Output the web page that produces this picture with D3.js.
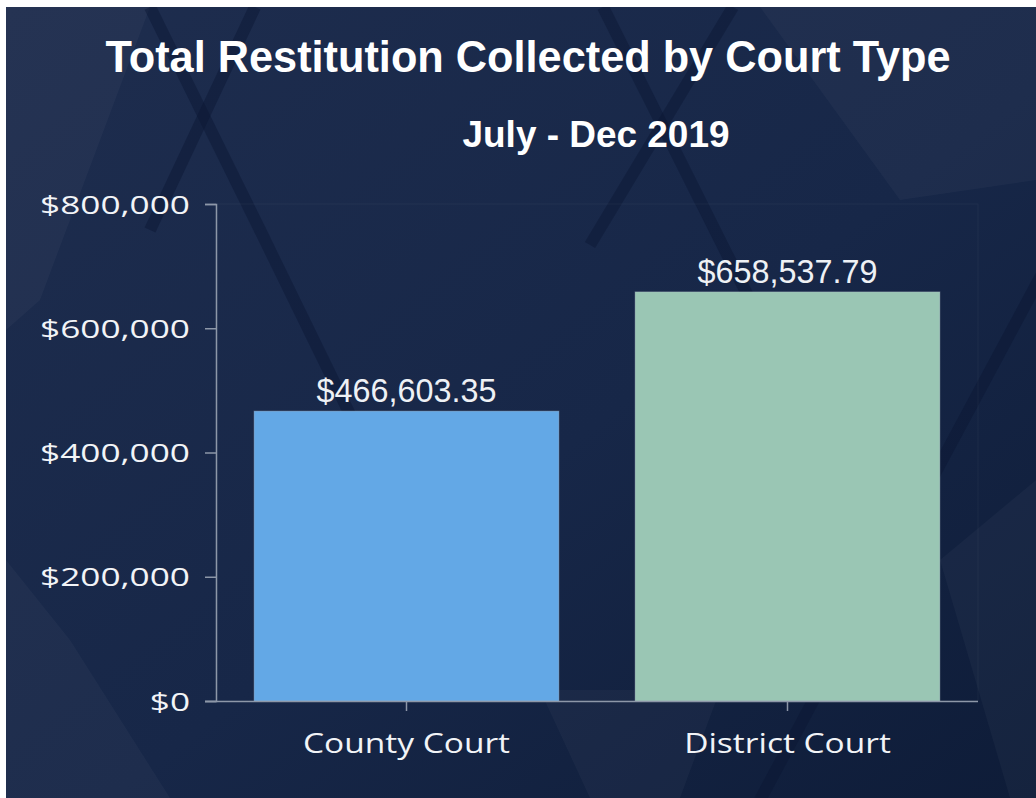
<!DOCTYPE html>
<html>
<head>
<meta charset="utf-8">
<script src="https://cdn.jsdelivr.net/npm/d3@7"></script>
<style>
  html, body { margin: 0; padding: 0; background: #ffffff; }
  svg { display: block; }
</style>
</head>
<body>
<svg id="chart" width="1036" height="798"></svg>
<script>
// ---- data ----
const categories = ["County Court", "District Court"];
const values = [466603.35, 658537.79];
const barColors = ["#63a8e6", "#9ac6b4"];
const yTicks = [0, 200000, 400000, 600000, 800000];
const titleText = "Total Restitution Collected by Court Type";
const subtitleText = "July - Dec 2019";

const W = 1036, H = 798;
const svg = d3.select("#chart");

// ---- background panel ----
const defs = svg.append("defs");
const grad = defs.append("linearGradient").attr("id", "bg")
  .attr("x1", "0").attr("y1", "0").attr("x2", "1").attr("y2", "1");
grad.append("stop").attr("offset", "0%").attr("stop-color", "#1e2d4e");
grad.append("stop").attr("offset", "55%").attr("stop-color", "#172748");
grad.append("stop").attr("offset", "100%").attr("stop-color", "#0e1c38");
const clip = defs.append("clipPath").attr("id", "panelClip");
clip.append("rect").attr("x", 6).attr("y", 7).attr("width", W - 6).attr("height", H - 7);

const bg = svg.append("g").attr("clip-path", "url(#panelClip)");
bg.append("rect").attr("x", 6).attr("y", 7).attr("width", W - 6).attr("height", H - 7)
  .attr("fill", "url(#bg)");

// decorative lattice (lighter facets and darker seams)
const facets = [
  [[6, 7], [150, 7], [40, 300], [6, 330]],
  [[6, 560], [70, 640], [170, 798], [6, 798]],
  [[540, 690], [720, 690], [680, 798], [590, 798]],
  [[940, 560], [1036, 480], [1036, 798], [1010, 798]],
  [[760, 7], [1036, 7], [1036, 180], [900, 200]]
];
bg.selectAll("path.facet").data(facets).join("path")
  .attr("class", "facet")
  .attr("d", d => "M" + d.map(p => p.join(",")).join("L") + "Z")
  .attr("fill", "#ffffff").attr("fill-opacity", 0.03);

const seams = [
  [[150, 7], [260, 230]], [[255, 7], [150, 230]],
  [[603, 7], [760, 320]], [[733, 7], [590, 245]],
  [[1185, 7], [760, 800]], [[260, 230], [460, 640]]
];
bg.selectAll("line.seam").data(seams).join("line")
  .attr("class", "seam")
  .attr("x1", d => d[0][0]).attr("y1", d => d[0][1])
  .attr("x2", d => d[1][0]).attr("y2", d => d[1][1])
  .attr("stroke", "#0b1734").attr("stroke-opacity", 0.45).attr("stroke-width", 12);

// ---- scales ----
const margin = { left: 216, right: 1036 - 978, top: 204, bottom: 798 - 701 };
const x = d3.scaleBand().domain(categories)
  .range([margin.left, W - margin.right])
  .paddingInner(0.2).paddingOuter(0.1);
const y = d3.scaleLinear().domain([0, 800000])
  .range([H - margin.bottom, margin.top]);

// faint plot border
svg.append("rect")
  .attr("x", margin.left).attr("y", margin.top)
  .attr("width", W - margin.right - margin.left)
  .attr("height", H - margin.bottom - margin.top)
  .attr("fill", "none").attr("stroke", "#ffffff").attr("stroke-opacity", 0.04);

// ---- bars ----
const data = categories.map((c, i) => ({ c, v: values[i], color: barColors[i] }));
svg.selectAll("rect.bar").data(data).join("rect")
  .attr("class", "bar")
  .attr("x", d => x(d.c))
  .attr("y", d => y(d.v))
  .attr("width", x.bandwidth())
  .attr("height", d => y(0) - y(d.v))
  .attr("fill", d => d.color)
  .attr("stroke", "#b8c4cf").attr("stroke-opacity", 0.35).attr("stroke-width", 1);

// value labels
const fmtVal = d3.format("$,.2f");
svg.selectAll("text.val").data(data).join("text")
  .attr("class", "val")
  .attr("x", d => x(d.c) + x.bandwidth() / 2)
  .attr("y", d => y(d.v) - 9)
  .attr("text-anchor", "middle")
  .attr("font-family", "'Liberation Sans', Arial, sans-serif")
  .attr("font-size", 33)
  .attr("fill", "#eef1f5")
  .attr("textLength", 180).attr("lengthAdjust", "spacingAndGlyphs")
  .text(d => fmtVal(d.v));

// stretch helper: widen glyphs proportionally
function stretch(sel, factor) {
  sel.each(function () {
    const len = this.getComputedTextLength();
    d3.select(this).attr("textLength", len * factor).attr("lengthAdjust", "spacingAndGlyphs");
  });
}

// ---- axes ----
const axisColor = "#8d97a8";
const fmtTick = d3.format("$,.0f");
const yAxis = svg.append("g")
  .attr("transform", `translate(${margin.left},0)`)
  .call(d3.axisLeft(y).tickValues(yTicks).tickFormat(fmtTick).tickSize(11).tickPadding(15));
yAxis.select(".domain").attr("stroke", axisColor).attr("stroke-width", 1.5);
yAxis.selectAll(".tick line").attr("stroke", axisColor).attr("stroke-width", 1.5);
const yTxt = yAxis.selectAll(".tick text")
  .attr("fill", "#f2f4f7")
  .attr("font-family", "'Open Sans', 'Noto Sans', sans-serif")
  .attr("font-weight", 500)
  .attr("font-size", 25)
  .attr("dy", "0.36em");
{
  const ref = yTxt.filter(d => d === 800000).node().getComputedTextLength();
  stretch(yTxt, 150 / ref);
}

const xAxis = svg.append("g")
  .attr("transform", `translate(0,${y(0)})`)
  .call(d3.axisBottom(x).tickSize(10).tickPadding(22).tickSizeOuter(0));
xAxis.select(".domain").attr("stroke", axisColor).attr("stroke-width", 1.5)
  .attr("d", `M${margin.left - 11},0.5H${W - margin.right}`);
xAxis.selectAll(".tick line").attr("stroke", axisColor).attr("stroke-width", 1.5);
const xTxt = xAxis.selectAll(".tick text")
  .attr("fill", "#f2f4f7")
  .attr("font-family", "'Open Sans', 'Noto Sans', sans-serif")
  .attr("font-weight", 500)
  .attr("font-size", 28);
{
  const ref = xTxt.filter(d => d === "County Court").node().getComputedTextLength();
  stretch(xTxt, 207 / ref);
}

// ---- titles ----
svg.append("text")
  .attr("x", 528).attr("y", 72)
  .attr("text-anchor", "middle")
  .attr("font-family", "'Liberation Sans', Arial, sans-serif")
  .attr("font-weight", "bold")
  .attr("font-size", 45)
  .attr("fill", "#ffffff")
  .attr("textLength", 845).attr("lengthAdjust", "spacingAndGlyphs")
  .text(titleText);

svg.append("text")
  .attr("x", 596).attr("y", 147)
  .attr("text-anchor", "middle")
  .attr("font-family", "'Liberation Sans', Arial, sans-serif")
  .attr("font-weight", "bold")
  .attr("font-size", 37)
  .attr("fill", "#ffffff")
  .attr("textLength", 267).attr("lengthAdjust", "spacingAndGlyphs")
  .text(subtitleText);
</script>
</body>
</html>
